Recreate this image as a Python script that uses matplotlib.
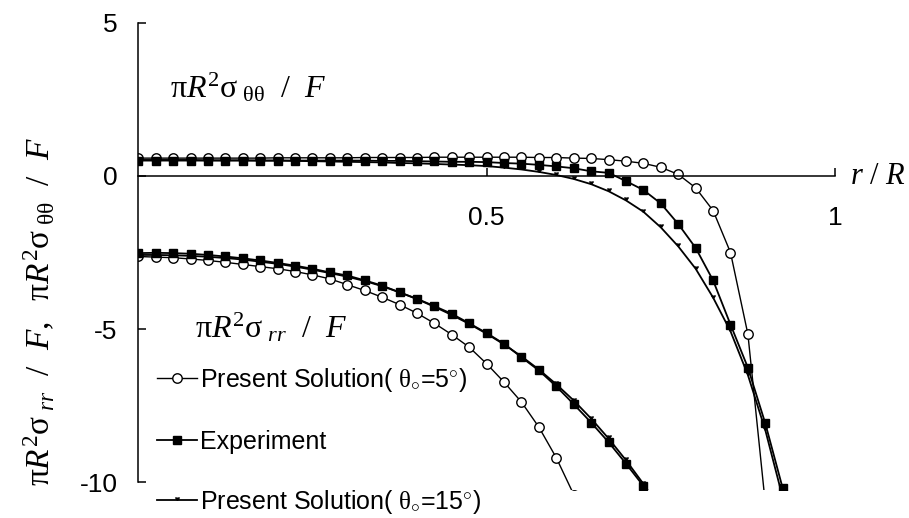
import matplotlib
matplotlib.use("Agg")
import matplotlib.pyplot as plt

plt.rcParams["font.family"] = ["Liberation Sans", "DejaVu Sans"]
plt.rcParams["mathtext.fontset"] = "custom"
plt.rcParams["mathtext.rm"] = "Liberation Serif"
plt.rcParams["mathtext.it"] = "Liberation Serif:italic"
plt.rcParams["mathtext.bf"] = "Liberation Serif:bold"
plt.rcParams["axes.unicode_minus"] = False

# radial positions r/R where the stresses were sampled
r_grid = [0.0, 0.025, 0.05, 0.075, 0.1, 0.125, 0.15, 0.175, 0.2, 0.225,
          0.25, 0.275, 0.3, 0.325, 0.35, 0.375, 0.4, 0.425, 0.45, 0.475,
          0.5, 0.525, 0.55, 0.575, 0.6, 0.625, 0.65, 0.675, 0.7, 0.725,
          0.75, 0.775, 0.8, 0.825, 0.85, 0.875, 0.9, 0.925]

# hoop stress  pi R^2 sigma_tt / F
tt_sol5 = [0.58, 0.58, 0.58, 0.58, 0.58, 0.58, 0.58, 0.58, 0.59, 0.59,
           0.59, 0.59, 0.59, 0.60, 0.60, 0.60, 0.60, 0.61, 0.61, 0.61,
           0.61, 0.61, 0.61, 0.60, 0.60, 0.58, 0.57, 0.53, 0.48, 0.41,
           0.28, 0.05, -0.39, -1.13, -2.50, -5.17, -10.7]
tt_exp = [0.50, 0.50, 0.50, 0.50, 0.50, 0.50, 0.50, 0.50, 0.50, 0.50,
          0.50, 0.50, 0.50, 0.50, 0.49, 0.49, 0.48, 0.47, 0.46, 0.46,
          0.45, 0.42, 0.40, 0.36, 0.31, 0.25, 0.15, 0.10, -0.17, -0.46,
          -0.90, -1.57, -2.35, -3.41, -4.85, -6.26, -8.08, -10.2]
tt_sol15 = [0.52, 0.52, 0.52, 0.52, 0.51, 0.51, 0.51, 0.50, 0.50, 0.49,
            0.48, 0.47, 0.46, 0.45, 0.44, 0.42, 0.41, 0.39, 0.37, 0.35,
            0.32, 0.27, 0.21, 0.13, 0.03, -0.10, -0.27, -0.50, -0.80, -1.17,
            -1.68, -2.30, -3.03, -3.97, -5.07, -6.5, -8.3, -10.5]

# radial stress  pi R^2 sigma_rr / F
rr_sol5 = [-2.63, -2.65, -2.67, -2.71, -2.76, -2.82, -2.89, -2.96, -3.03, -3.12,
           -3.23, -3.36, -3.55, -3.74, -3.96, -4.20, -4.48, -4.81, -5.18, -5.59,
           -6.13, -6.73, -7.38, -8.20, -9.20, -10.4]
rr_exp = [-2.52, -2.51, -2.52, -2.54, -2.58, -2.63, -2.69, -2.76, -2.84, -2.93,
          -3.03, -3.15, -3.25, -3.41, -3.58, -3.80, -4.01, -4.25, -4.50, -4.81,
          -5.13, -5.48, -5.92, -6.35, -6.87, -7.45, -8.05, -8.69, -9.39, -10.12]
rr_sol15 = [-2.58, -2.58, -2.59, -2.61, -2.64, -2.68, -2.73, -2.80, -2.87, -2.96,
            -3.06, -3.17, -3.29, -3.43, -3.60, -3.80, -4.02, -4.27, -4.54, -4.83,
            -5.15, -5.50, -5.89, -6.32, -6.80, -7.33, -7.92, -8.57, -9.28, -10.05,
            -10.9]

labels = [r"Present Solution( $\mathrm{\theta}_{\circ}$=5$^{\circ}$)",
          "Experiment",
          r"Present Solution( $\mathrm{\theta}_{\circ}$=15$^{\circ}$)"]

TT_LABEL = r"$\mathrm{\pi}R^{\mathrm{2}}\mathrm{\sigma}_{\ \mathrm{\theta\theta}}\ \ /\ \ F$"
RR_LABEL = r"$\mathrm{\pi}R^{\mathrm{2}}\mathrm{\sigma}_{\ rr}\ \ /\ \ F$"

sol5_style = dict(color="black", lw=1.0, marker="o", ms=6.8, mfc="white", mec="black", mew=1.0)
exp_style = dict(color="black", lw=1.3, marker="s", ms=6.2, mfc="black", mec="black")
sol15_style = dict(color="black", lw=1.3, marker=7, ms=3.3, mfc="black", mec="black")

fig = plt.figure(figsize=(9.09, 5.18), dpi=100)
ax = fig.add_axes([0.1521, 0.0541, 0.7665, 0.9021])

h5, = ax.plot(r_grid[:len(tt_sol5)], tt_sol5, **sol5_style)
ax.plot(r_grid[:len(rr_sol5)], rr_sol5, **sol5_style)
h15, = ax.plot(r_grid[:len(tt_sol15)], tt_sol15, **sol15_style)
ax.plot(r_grid[:len(rr_sol15)], rr_sol15, **sol15_style)
hexp, = ax.plot(r_grid[:len(tt_exp)], tt_exp, **exp_style)
ax.plot(r_grid[:len(rr_exp)], rr_exp, **exp_style)

ax.set_xlim(0, 1)
ax.set_ylim(-10.25, 5)
for side in ("top", "right"):
    ax.spines[side].set_visible(False)
ax.spines["bottom"].set_position(("data", 0))
ax.spines["bottom"].set_bounds(0, 1)
ax.spines["left"].set_bounds(-10, 5)
for side in ("bottom", "left"):
    ax.spines[side].set_linewidth(1.1)

ax.set_xticks([0.5, 1])
ax.set_xticklabels(["0.5", "1"])
ax.set_yticks([-10, -5, 0, 5])
ax.set_yticklabels(["-10", "-5", "0", "5"])
ax.tick_params(axis="x", direction="in", length=6, width=1.1, pad=22, labelsize=19)
ax.tick_params(axis="y", direction="in", length=6, width=1.1, pad=15, labelsize=19)

ax.text(0.046, 2.55, TT_LABEL, fontsize=23, va="baseline")
ax.text(0.082, -5.27, RR_LABEL, fontsize=23, va="baseline")
ax.text(1.022, 0, r"$r\ /\ R$", fontsize=22, va="center", ha="left")

fig.text(0.044, 0.398, RR_LABEL[:-1] + r",\ \ " + TT_LABEL[1:],
         rotation=90, fontsize=24, ha="center", va="center")

# one legend per entry so each row sits where it should
rows_y = [0.2664, 0.1473, 0.0315]
for handle, lab, yy in zip([h5, hexp, h15], labels, rows_y):
    fig.legend(handles=[handle], labels=[lab], loc="center left",
               bbox_to_anchor=(0.1727, yy), frameon=False, borderpad=0,
               borderaxespad=0, handlelength=1.6, handletextpad=0.12,
               numpoints=1, fontsize=18)

fig.savefig("out.png", dpi=100)
